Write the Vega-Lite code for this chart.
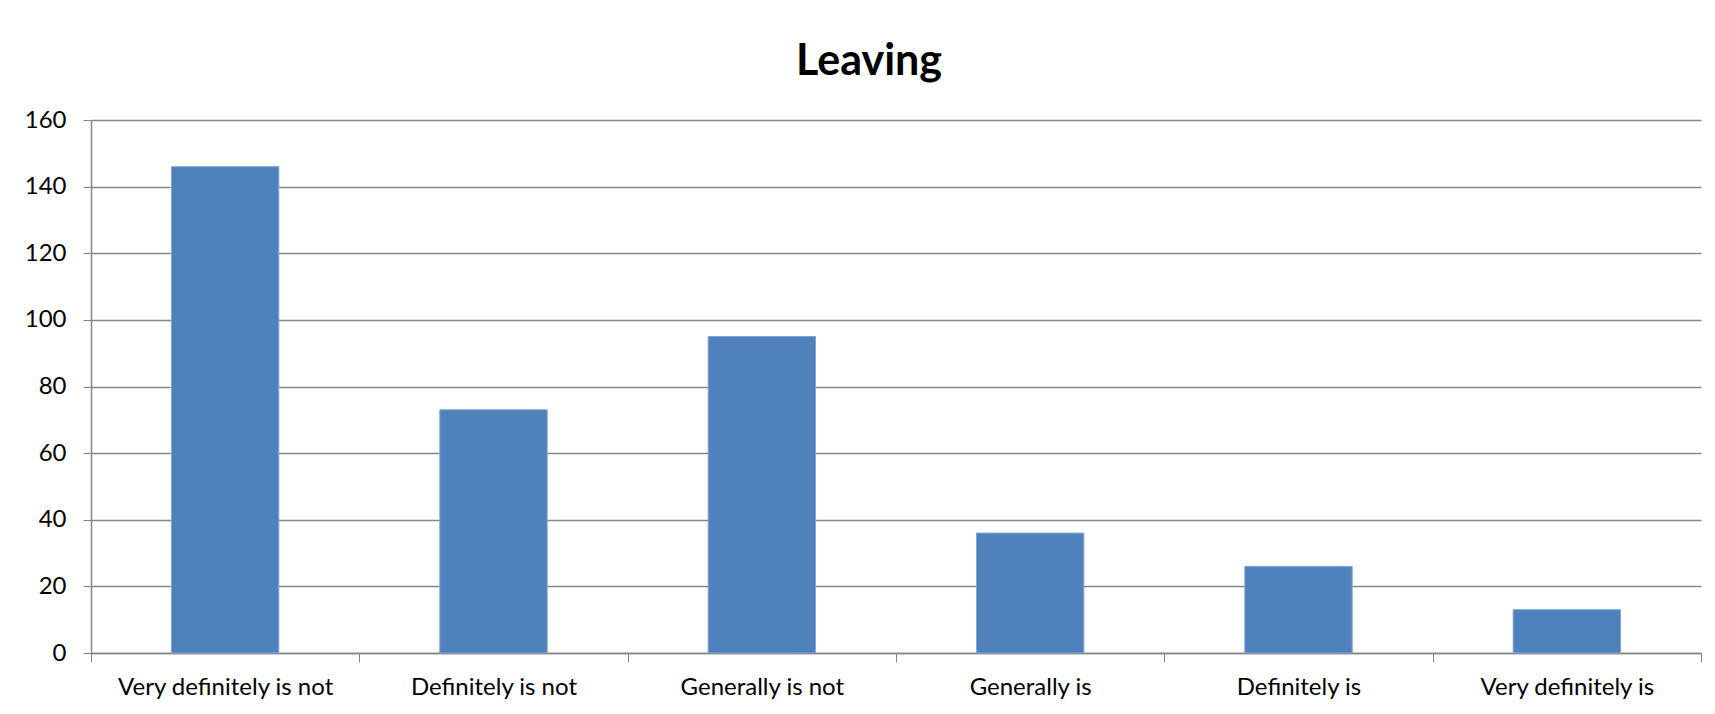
{
  "$schema": "https://vega.github.io/schema/vega-lite/v6.json",
  "width": 1610,
  "height": 533,
  "autosize": {"type": "none"},
  "padding": {"left": 91, "top": 120, "right": 14, "bottom": 61},
  "background": "white",
  "title": {
    "text": "Leaving",
    "font": "Lato",
    "fontSize": 43,
    "fontWeight": "bold",
    "color": "#000000",
    "anchor": "middle",
    "dx": -27,
    "offset": 24
  },
  "data": {
    "values": [
      {"category": "Very definitely is not", "count": 146},
      {"category": "Definitely is not", "count": 73},
      {"category": "Generally is not", "count": 95},
      {"category": "Generally is", "count": 36},
      {"category": "Definitely is", "count": 26},
      {"category": "Very definitely is", "count": 13}
    ]
  },
  "mark": {"type": "bar", "color": "#4F81BD", "stroke": "#7FA6D6", "strokeWidth": 1, "width": {"band": 0.4}},
  "encoding": {
    "x": {
      "field": "category",
      "type": "nominal",
      "sort": null,
      "scale": {"paddingInner": 0, "paddingOuter": 0},
      "axis": {
        "title": null,
        "labelAngle": 0,
        "labelFont": "Lato",
        "labelFontSize": 24,
        "labelColor": "#000000",
        "labelPadding": 13,
        "labelLimit": 0,
        "tickBand": "extent",
        "tickSize": 9,
        "tickColor": "#868686",
        "domainColor": "#868686",
        "domainWidth": 1.5,
        "grid": false
      }
    },
    "y": {
      "field": "count",
      "type": "quantitative",
      "scale": {"domain": [0, 160], "nice": false},
      "axis": {
        "title": null,
        "values": [0, 20, 40, 60, 80, 100, 120, 140, 160],
        "labelFont": "Lato",
        "labelFontSize": 24,
        "labelColor": "#000000",
        "labelPadding": 17,
        "tickSize": 8,
        "tickColor": "#868686",
        "domainColor": "#868686",
        "domainWidth": 1.5,
        "gridColor": "#868686",
        "gridWidth": 1.5
      }
    }
  },
  "config": {"view": {"stroke": null}}
}
